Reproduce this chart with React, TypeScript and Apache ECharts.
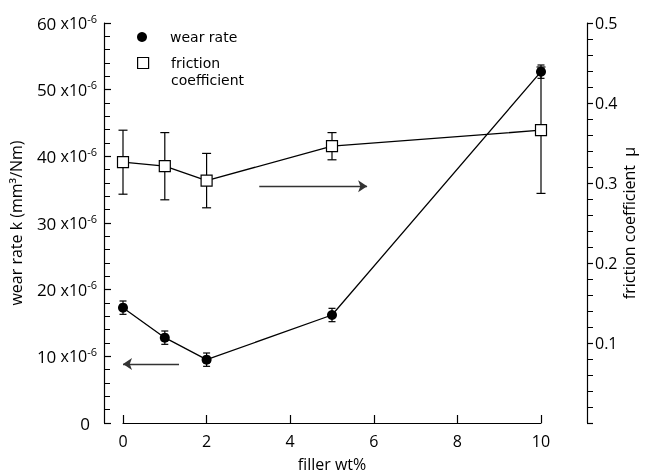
import React, { useEffect, useRef } from "react";
import * as echarts from "echarts";

// filler content (wt%)
const fillerWt = [0, 1, 2, 5, 10];
// wear rate k, in units of 10^-6 mm^3/Nm
const wearRate = [17.3, 12.8, 9.5, 16.2, 52.7];
const wearRateErr = [1.0, 1.0, 1.0, 1.0, 1.0];
// friction coefficient mu
const friction = [0.326, 0.321, 0.303, 0.346, 0.366];
const frictionErr = [0.04, 0.042, 0.034, 0.017, 0.079];
// annotation arrows (data coordinates): [from, to]
const wearArrow = [[1.34, 8.85], [0, 8.85]];
const frictionArrow = [[3.26, 0.296], [5.84, 0.296]];

const FONT = "Open Sans";
const LEGEND_FONT = "DejaVu Sans";
// square icon placed at the top of a taller (invisible) box so it lines up with the first text line
const SQUARE_TOP = "path://M0,0L10,0L10,10L0,10Z M0,25.45";

export default function App() {
  const ref = useRef<HTMLDivElement>(null);
  useEffect(() => {
    if (!ref.current) return;
    const chart = echarts.init(ref.current, undefined, { renderer: "svg" });

    const errRender = (cap: number) => (params: any, api: any) => {
      const x = api.value(0);
      const lo = api.coord([x, api.value(1)]);
      const hi = api.coord([x, api.value(2)]);
      const st = { stroke: "#000", lineWidth: 1.2 };
      return {
        type: "group",
        children: [
          { type: "line", shape: { x1: lo[0], y1: lo[1], x2: hi[0], y2: hi[1] }, style: st },
          { type: "line", shape: { x1: lo[0] - cap, y1: lo[1], x2: lo[0] + cap, y2: lo[1] }, style: st },
          { type: "line", shape: { x1: hi[0] - cap, y1: hi[1], x2: hi[0] + cap, y2: hi[1] }, style: st },
        ],
      };
    };

    const axisCommon = {
      axisLine: { show: true, onZero: false, lineStyle: { color: "#000", width: 1.2 } },
      splitLine: { show: false },
      minorSplitLine: { show: false },
      nameMoveOverlap: false,
      nameTextStyle: { fontFamily: FONT, fontSize: 16, color: "#000", lineHeight: 16 },
    };

    const legendCommon = {
      orient: "vertical",
      padding: 5,
      itemWidth: 46,
      selectedMode: false,
      symbolKeepAspect: true,
      textStyle: { fontFamily: LEGEND_FONT, fontSize: 14, color: "#000", lineHeight: 17 },
    };

    const option: any = {
      animation: false,
      textStyle: { fontFamily: FONT },
      grid: { left: 123, right: 105, top: 23, bottom: 51, outerBoundsMode: "none", containLabel: false },
      legend: [
        {
          ...legendCommon,
          left: 132,
          top: 23.5,
          itemHeight: 10,
          data: [{ name: "wear rate", icon: "circle", itemStyle: { color: "#000" } }],
        },
        {
          ...legendCommon,
          left: 132,
          top: 49.5,
          itemHeight: 28,
          formatter: () => "friction\ncoefficient",
          data: [
            {
              name: "friction coefficient",
              icon: SQUARE_TOP,
              itemStyle: { color: "#fff", borderColor: "#000", borderWidth: 1.2 },
            },
          ],
        },
      ],
      xAxis: {
        ...axisCommon,
        type: "value",
        min: 0,
        max: 10,
        interval: 2,
        axisTick: { show: true, inside: true, length: 8, lineStyle: { color: "#000", width: 1.2 } },
        axisLabel: { color: "#000", fontFamily: FONT, fontSize: 16, margin: 10 },
        name: "filler wt%",
        nameLocation: "middle",
        nameGap: 33,
      },
      yAxis: [
        {
          ...axisCommon,
          type: "value",
          position: "left",
          offset: 19,
          min: 0,
          max: 60,
          interval: 10,
          axisTick: { show: true, inside: true, length: 7, lineStyle: { color: "#000", width: 1.2 } },
          minorTick: { show: true, splitNumber: 5, length: 6, lineStyle: { color: "#000", width: 1 } },
          axisLabel: {
            color: "#000",
            fontFamily: FONT,
            margin: 7,
            formatter: (v: number) =>
              v === 0 ? "{z|0}" : `{n|${Math.round(v)}}{x| x10}{s|-6}`,
            rich: {
              z: { fontSize: 17, fontFamily: FONT, color: "#000", padding: [0, 7, 0, 0] },
              n: { fontSize: 17, fontFamily: FONT, color: "#000" },
              x: { fontSize: 16, fontFamily: FONT, color: "#000" },
              s: { fontSize: 11, fontFamily: FONT, color: "#000", padding: [0, 0, 10, 0] },
            },
          },
          name: "wear rate k (mm³/Nm)",
          nameLocation: "middle",
          nameRotate: 90,
          nameGap: 80,
        },
        {
          ...axisCommon,
          type: "value",
          position: "right",
          offset: 46,
          min: 0,
          max: 0.5,
          interval: 0.1,
          axisTick: { show: true, inside: false, length: 6, lineStyle: { color: "#000", width: 1.2 } },
          minorTick: { show: true, splitNumber: 5, length: 6, lineStyle: { color: "#000", width: 1 } },
          axisLabel: {
            color: "#000",
            fontFamily: FONT,
            fontSize: 16,
            margin: 8,
            formatter: (v: number) => (v === 0 ? "" : v.toFixed(1)),
          },
          name: "friction coefficient  μ",
          nameLocation: "middle",
          nameRotate: 90,
          nameGap: 34,
        },
      ],
      series: [
        {
          name: "wear err",
          type: "custom",
          yAxisIndex: 0,
          clip: false,
          silent: true,
          renderItem: errRender(3.5),
          encode: { x: 0, y: [1, 2] },
          data: fillerWt.map((x, i) => [x, wearRate[i] - wearRateErr[i], wearRate[i] + wearRateErr[i]]),
          z: 1,
        },
        {
          name: "friction err",
          type: "custom",
          yAxisIndex: 1,
          clip: false,
          silent: true,
          renderItem: errRender(4.5),
          encode: { x: 0, y: [1, 2] },
          data: fillerWt.map((x, i) => [x, friction[i] - frictionErr[i], friction[i] + frictionErr[i]]),
          z: 1,
        },
        {
          name: "wear rate",
          type: "line",
          yAxisIndex: 0,
          clip: false,
          symbol: "circle",
          symbolSize: 10,
          itemStyle: { color: "#000" },
          lineStyle: { color: "#000", width: 1.3 },
          data: fillerWt.map((x, i) => [x, wearRate[i]]),
          z: 3,
          markLine: {
            silent: true,
            symbol: ["none", "arrow"],
            symbolSize: 9,
            label: { show: false },
            lineStyle: { type: "solid", color: "#333", width: 1.3 },
            data: [[{ coord: wearArrow[0] }, { coord: wearArrow[1] }]],
          },
        },
        {
          name: "friction coefficient",
          type: "line",
          yAxisIndex: 1,
          clip: false,
          symbol: "rect",
          symbolSize: 11,
          itemStyle: { color: "#fff", borderColor: "#000", borderWidth: 1.2 },
          lineStyle: { color: "#000", width: 1.3 },
          data: fillerWt.map((x, i) => [x, friction[i]]),
          z: 3,
          markLine: {
            silent: true,
            symbol: ["none", "arrow"],
            symbolSize: 9,
            label: { show: false },
            lineStyle: { type: "solid", color: "#333", width: 1.3 },
            data: [[{ coord: frictionArrow[0] }, { coord: frictionArrow[1] }]],
          },
        },
      ],
    };
    chart.setOption(option);
    return () => chart.dispose();
  }, []);
  return <div ref={ref} style={{ position: "fixed", left: 0, top: 0, width: 646, height: 474 }} />;
}
